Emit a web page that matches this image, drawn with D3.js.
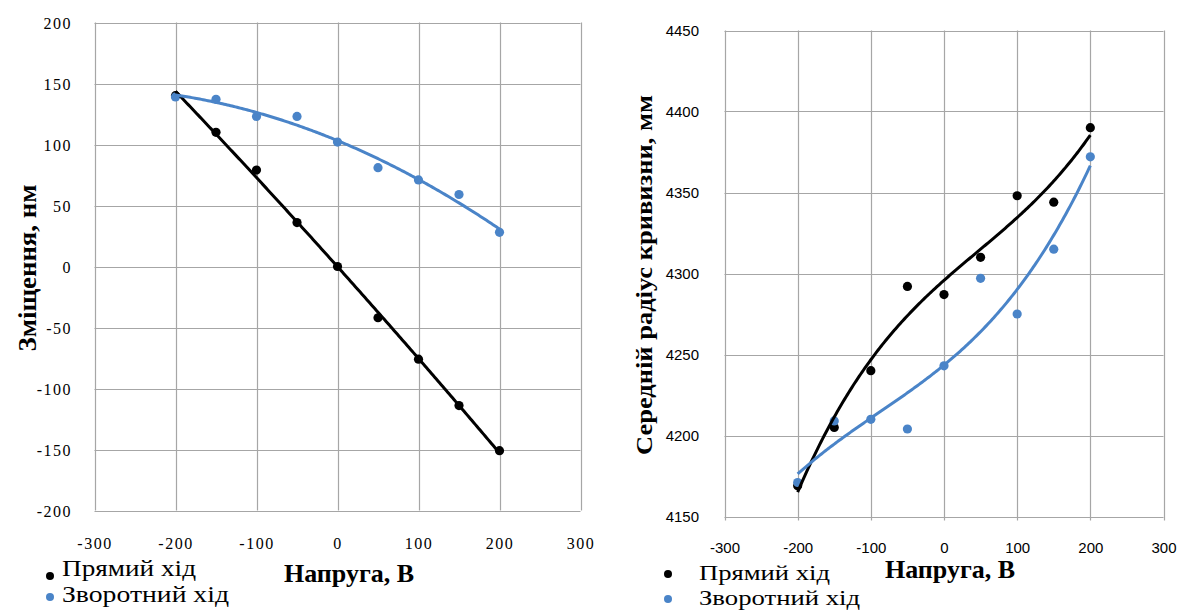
<!DOCTYPE html>
<html>
<head>
<meta charset="utf-8">
<script src="https://cdn.jsdelivr.net/npm/d3@7"></script>
<style>
  html, body { margin: 0; padding: 0; background: #fff; }
  svg { display: block; }
</style>
</head>
<body>
<svg id="chart" width="1178" height="610"></svg>
<script>
// Measured voltages (V) and responses for forward / reverse sweeps
const voltage = [-200, -150, -100, -50, 0, 50, 100, 150, 200];

// Displacement, nm
const shiftForward  = [140, 110, 79, 36, 0, -42, -76, -114, -151];
const shiftBackward = [139, 137, 123, 123, 102, 81, 71, 59, 28];

// Mean radius of curvature, mm
const radiusForward  = [4169, 4205, 4240, 4292, 4287, 4310, 4348, 4344, 4390];
const radiusBackward = [4171, 4209, 4210, 4204, 4243, 4297, 4275, 4315, 4372];

// Axis ticks
const voltageTicks = [-300, -200, -100, 0, 100, 200, 300];
const shiftTicks   = [-200, -150, -100, -50, 0, 50, 100, 150, 200];
const radiusTicks  = [4150, 4200, 4250, 4300, 4350, 4400, 4450];

// Series labels
const seriesNames = ["Прямий хід", "Зворотний хід"];
const xTitle = "Напруга, В";
const shiftTitle = "Зміщення, нм";
const radiusTitle = "Середній радіус кривизни, мм";

const BLACK = "#000000";
const BLUE = "#4a84c8";
const GRID = "#a6a6a6";

// Plain integer labels with an ASCII hyphen for negatives
const plainNumber = d => String(d);

// Least-squares polynomial trend line (normal equations, x scaled by 1/100)
function polyfit(xs, ys, deg) {
  const n = deg + 1;
  const A = Array.from({length: n}, () => new Array(n).fill(0));
  const b = new Array(n).fill(0);
  xs.forEach((x0, k) => {
    const x = x0 / 100;
    for (let i = 0; i < n; i++) {
      b[i] += ys[k] * Math.pow(x, i);
      for (let j = 0; j < n; j++) A[i][j] += Math.pow(x, i + j);
    }
  });
  for (let i = 0; i < n; i++) {
    let p = i;
    for (let r = i + 1; r < n; r++) if (Math.abs(A[r][i]) > Math.abs(A[p][i])) p = r;
    [A[i], A[p]] = [A[p], A[i]]; [b[i], b[p]] = [b[p], b[i]];
    for (let r = i + 1; r < n; r++) {
      const f = A[r][i] / A[i][i];
      for (let c = i; c < n; c++) A[r][c] -= f * A[i][c];
      b[r] -= f * b[i];
    }
  }
  const coef = new Array(n).fill(0);
  for (let i = n - 1; i >= 0; i--) {
    let s = b[i];
    for (let c = i + 1; c < n; c++) s -= A[i][c] * coef[c];
    coef[i] = s / A[i][i];
  }
  return x0 => coef.reduce((s, c, i) => s + c * Math.pow(x0 / 100, i), 0);
}

const svg = d3.select("#chart");
svg.append("rect").attr("width", 1178).attr("height", 610).attr("fill", "#fff");

function drawPanel(cfg) {
  const g = svg.append("g");
  const x = d3.scaleLinear().domain([-300, 300]).range(cfg.xRange);
  const y = d3.scaleLinear().domain(d3.extent(cfg.yTicks)).range(cfg.yRange);

  // Gridlines
  g.append("g").selectAll("line").data(cfg.yTicks).join("line")
    .attr("x1", x(-300)).attr("x2", x(300))
    .attr("y1", d => Math.round(y(d)) + 0.5).attr("y2", d => Math.round(y(d)) + 0.5)
    .attr("stroke", GRID).attr("stroke-width", 1.2);
  g.append("g").selectAll("line").data(voltageTicks).join("line")
    .attr("x1", d => Math.round(x(d)) + 0.5).attr("x2", d => Math.round(x(d)) + 0.5)
    .attr("y1", y.range()[1]).attr("y2", y.range()[0] + cfg.tickLen)
    .attr("stroke", GRID).attr("stroke-width", 1.2);

  // Tick labels
  const yAxis = d3.axisLeft(y).tickValues(cfg.yTicks).tickFormat(plainNumber)
    .tickSize(0).tickPadding(0);
  const ya = g.append("g").attr("transform", `translate(${cfg.yLabelX},0)`).call(yAxis);
  ya.select(".domain").remove();
  ya.selectAll("text").attr("font-family", cfg.tickFont).attr("font-size", cfg.tickSize)
    .attr("letter-spacing", cfg.tickSpacing).attr("fill", "#000").attr("dy", "0.36em");

  const xAxis = d3.axisBottom(x).tickValues(voltageTicks).tickFormat(plainNumber)
    .tickSize(0).tickPadding(0);
  const xa = g.append("g").attr("transform", `translate(0,${cfg.xLabelY})`).call(xAxis);
  xa.select(".domain").remove();
  xa.selectAll("text").attr("font-family", cfg.tickFont).attr("font-size", cfg.tickSize)
    .attr("letter-spacing", cfg.tickSpacing).attr("fill", "#000").attr("dy", "0.36em");

  // Markers
  const series = [
    {vals: cfg.forward, color: BLACK},
    {vals: cfg.backward, color: BLUE}
  ];
  series.forEach(s => {
    g.append("g").selectAll("circle").data(voltage).join("circle")
      .attr("cx", d => x(d)).attr("cy", (d, i) => y(s.vals[i]))
      .attr("r", 4.6).attr("fill", s.color);
  });

  // Polynomial trend lines
  const samples = d3.range(-200, 200.001, 2);
  const line = d3.line().x(d => x(d[0])).y(d => y(d[1]));
  series.forEach(s => {
    const f = polyfit(voltage, s.vals, cfg.degree);
    g.append("path").datum(samples.map(v => [v, f(v)]))
      .attr("d", line).attr("fill", "none").attr("stroke", s.color)
      .attr("stroke-width", 3).attr("stroke-linejoin", "round");
  });

  // Axis titles
  g.append("text").attr("x", cfg.xTitlePos[0]).attr("y", cfg.xTitlePos[1])
    .attr("text-anchor", "middle").attr("font-family", "Liberation Serif, serif")
    .attr("font-weight", "bold").attr("font-size", 26).text(xTitle);
  g.append("text")
    .attr("transform", `translate(${cfg.yTitlePos[0]},${cfg.yTitlePos[1]}) rotate(-90)`)
    .attr("text-anchor", "middle").attr("font-family", "Liberation Serif, serif")
    .attr("font-weight", "bold").attr("font-size", cfg.yTitleSize)
    .attr("textLength", cfg.yTitleLen).attr("lengthAdjust", "spacingAndGlyphs")
    .text(cfg.yTitle);

  // Legend
  series.forEach((s, i) => {
    g.append("circle").attr("cx", cfg.legend.dotX).attr("cy", cfg.legend.dotY[i]).attr("r", 4)
      .attr("fill", s.color);
    g.append("text").attr("x", cfg.legend.textX).attr("y", cfg.legend.textY[i])
      .attr("font-family", "Liberation Serif, serif").attr("font-size", cfg.legend.size)
      .attr("textLength", cfg.legend.widths[i]).attr("lengthAdjust", "spacingAndGlyphs")
      .attr("fill", "#000").text(seriesNames[i]);
  });
}

drawPanel({
  xRange: [94.5, 580.5], yRange: [510.5, 22.5], yTicks: shiftTicks,
  forward: shiftForward, backward: shiftBackward, degree: 2,
  tickLen: 0, tickFont: "Liberation Serif, serif", tickSize: 16, tickSpacing: 1.5,
  yLabelX: 72, xLabelY: 543,
  xTitlePos: [349, 582], yTitlePos: [36, 268], yTitle: shiftTitle,
  yTitleSize: 26, yTitleLen: 167,
  legend: {dotX: 50, textX: 62, dotY: [576, 597], textY: [576, 602], size: 23,
           widths: [134, 167]}
});

drawPanel({
  xRange: [724.5, 1163.5], yRange: [516.5, 30.5], yTicks: radiusTicks,
  forward: radiusForward, backward: radiusBackward, degree: 3,
  tickLen: 4, tickFont: "Liberation Sans, sans-serif", tickSize: 15, tickSpacing: 0,
  yLabelX: 699, xLabelY: 548,
  xTitlePos: [950, 578], yTitlePos: [652, 275], yTitle: radiusTitle,
  yTitleSize: 24, yTitleLen: 360,
  legend: {dotX: 668, textX: 699, dotY: [574, 599], textY: [580, 605], size: 22,
           widths: [131, 161]}
});
</script>
</body>
</html>
